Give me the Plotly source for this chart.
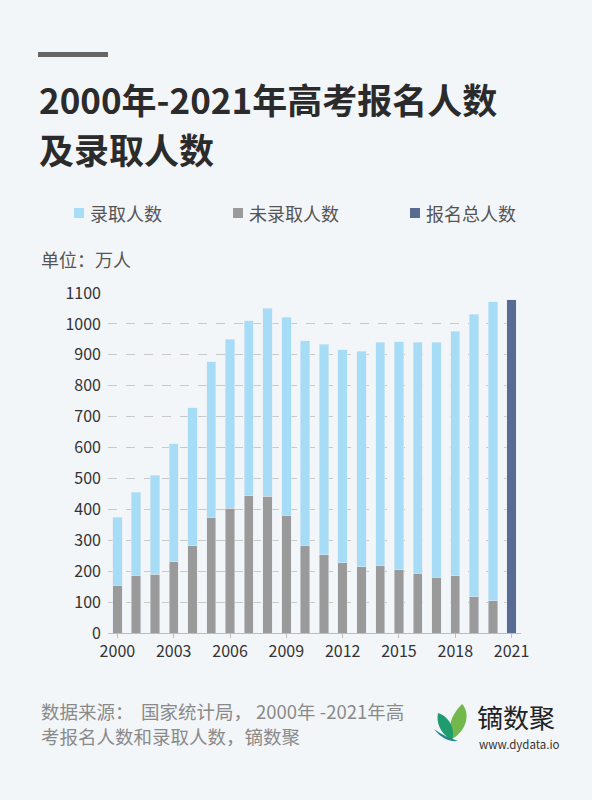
import plotly.graph_objects as go

# ── data (万人) ──────────────────────────────────────────────
YEARS = list(range(2000, 2021))
ADMITTED = [220, 268, 320, 382, 447, 504, 546, 566, 607, 640, 662,
            681, 688, 698, 721, 737, 748, 761, 790, 915, 967]
NOT_ADMITTED = [155, 187, 190, 231, 282, 374, 404, 444, 443, 381, 284,
                253, 228, 214, 220, 205, 193, 180, 186, 117, 104]
TOTAL_YEAR = [2021]
TOTAL_2021 = [1078]
X_TICKS = [2000, 2003, 2006, 2009, 2012, 2015, 2018, 2021]

# ── page geometry (pixels) ───────────────────────────────────
W, H = 592, 800
PLOT_L, PLOT_R = 108, 521
PLOT_T, PLOT_B = 293, 633

C_LIGHT = "#a6dcf6"
C_GRAY = "#9a9a9a"
C_NAVY = "#586c93"
BG = "#f3f6f9"
FONT = "Noto Sans CJK SC, Noto Sans, sans-serif"


def px(x, y):
    """pixel position on the page -> paper coords"""
    return ((x - PLOT_L) / (PLOT_R - PLOT_L),
            (PLOT_B - y) / (PLOT_B - PLOT_T))


def label(x, y, text, size, color, xanchor="left"):
    ax, ay = px(x, y)
    return dict(x=ax, y=ay, xref="paper", yref="paper", text=text,
                showarrow=False, xanchor=xanchor, yanchor="middle",
                font=dict(family=FONT, size=size, color=color))


def rect(x0, y0, x1, y1, color):
    a0, b0 = px(x0, y0)
    a1, b1 = px(x1, y1)
    return dict(type="rect", xref="paper", yref="paper", x0=a0, y0=b0,
                x1=a1, y1=b1, fillcolor=color, line=dict(width=0), layer="above")


def path(points, color):
    """closed path from pixel points, first is M, rest in triples for C"""
    pts = [px(*p) for p in points]
    d = f"M{pts[0][0]},{pts[0][1]}"
    rest = pts[1:]
    for i in range(0, len(rest), 3):
        a, b, c = rest[i:i + 3]
        d += f" C{a[0]},{a[1]} {b[0]},{b[1]} {c[0]},{c[1]}"
    d += " Z"
    return dict(type="path", xref="paper", yref="paper", path=d,
                fillcolor=color, line=dict(width=0), layer="above")


fig = go.Figure()
fig.add_bar(x=YEARS, y=NOT_ADMITTED, name="未录取人数", marker_color=C_GRAY,
            width=0.5, showlegend=False)
fig.add_bar(x=YEARS, y=ADMITTED, name="录取人数", marker_color=C_LIGHT,
            width=0.5, showlegend=False)
fig.add_bar(x=TOTAL_YEAR, y=TOTAL_2021, name="报名总人数", marker_color=C_NAVY,
            width=0.5, showlegend=False)

annotations = [
    label(37, 98, "<b>2000年-2021年高考报名人数</b>", 35, "#2b2b2b"),
    label(37, 149, "<b>及录取人数</b>", 35, "#2b2b2b"),
    label(88, 213, "录取人数", 18, "#555555"),
    label(247, 213, "未录取人数", 18, "#555555"),
    label(424, 213, "报名总人数", 18, "#555555"),
    label(39, 259, "单位：万人", 18, "#555555"),
    # first footer line is justified in the original, so it is set in parts
    label(39, 711, "数据来源：", 18.5, "#8a8a8a"),
    label(139, 711, "国家统计局，", 18.5, "#8a8a8a"),
    label(254, 711, "2000年 -2021年高", 18.5, "#8a8a8a"),
    label(39, 736, "考报名人数和录取人数，镝数聚", 18.5, "#8a8a8a"),
    label(475, 716, "镝数聚", 26, "#222222"),
    label(477, 744, "www.dydata.io", 11.5, "#333333"),
]

shapes = [
    rect(38, 52, 108, 57, "#666666"),
    rect(74, 208, 84, 218, C_LIGHT),
    rect(233, 208, 243, 218, C_GRAY),
    rect(410, 208, 420, 218, C_NAVY),
    # logo leaves
    path([(452, 739), (468, 730), (470, 712), (462, 704),
          (452, 714), (446, 728), (452, 739)], "#72b84c"),
    path([(452, 740), (456, 728), (448, 716), (438, 713),
          (436, 722), (440, 734), (452, 740)], "#1f9c6e"),
    path([(434, 729), (440, 737), (448, 742), (458, 741),
          (450, 738), (442, 735), (434, 729)], "#1d8a8e"),
]

fig.update_layout(
    width=W, height=H,
    margin=dict(l=PLOT_L, r=W - PLOT_R, t=PLOT_T, b=H - PLOT_B, pad=0),
    paper_bgcolor=BG, plot_bgcolor=BG,
    barmode="stack",
    font=dict(family=FONT, size=16, color="#333333"),
    annotations=annotations,
    shapes=shapes,
    xaxis=dict(
        range=[1999.5, 2021.5], tickvals=X_TICKS, showgrid=False,
        showline=True, linecolor="#bdbdbd", linewidth=1,
        ticks="outside", ticklen=4, tickcolor="#bdbdbd",
        tickfont=dict(size=16, color="#333333"), zeroline=False,
    ),
    yaxis=dict(
        range=[0, 1100], dtick=100, showgrid=True, gridcolor="#c9c9c9",
        griddash="dash", gridwidth=1, zeroline=False, showline=False,
        ticks="", ticklabelstandoff=6,
        tickfont=dict(size=16, color="#333333"),
    ),
)

# page has a default 8px body margin; drop it so the figure fills the window
fig.write_html(
    "out.html",
    config={"displayModeBar": False},
    post_script="document.body.style.margin='0';"
                "document.body.style.background='" + BG + "';",
)
